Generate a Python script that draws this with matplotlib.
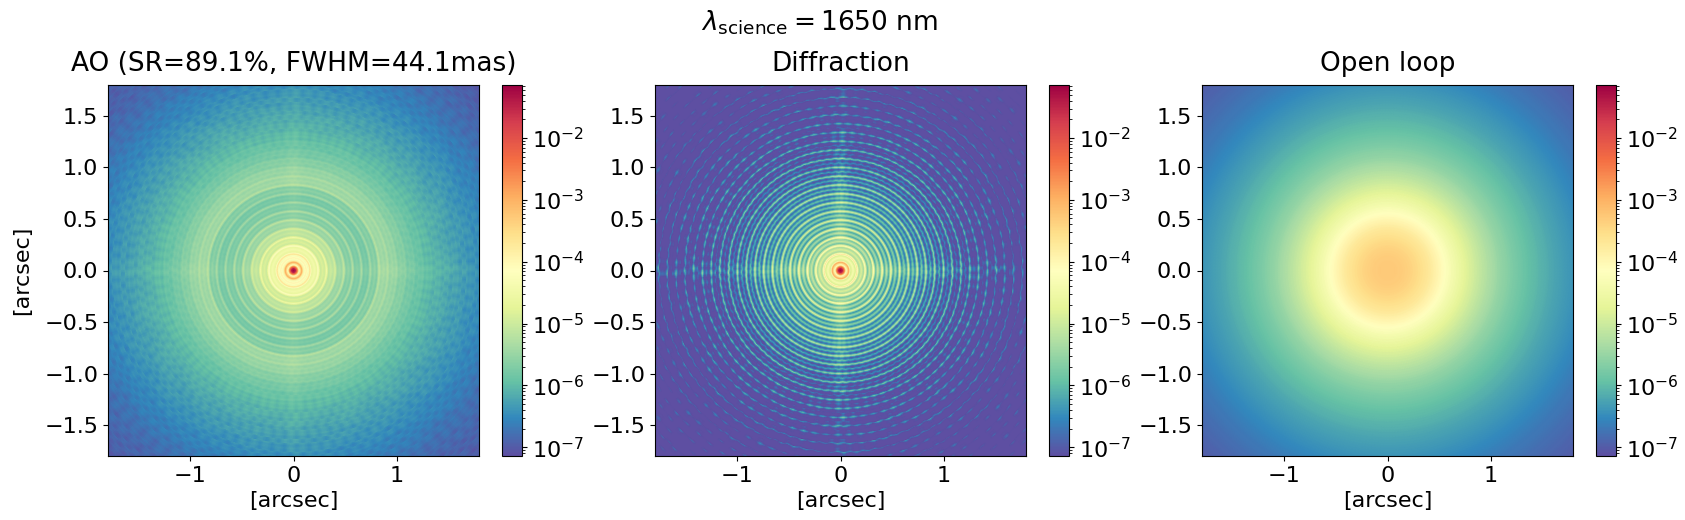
import numpy as np
import matplotlib
matplotlib.use("Agg")
import matplotlib.pyplot as plt
from matplotlib.colors import LogNorm

TITLES = ["AO (SR=89.1%, FWHM=44.1mas)", "Diffraction", "Open loop"]
SUPTITLE = r"$\lambda_{\mathrm{science}} = 1650$ nm"
VMIN, VMAX = 7.2e-8, 0.072
CBAR_TICKS = [1e-7, 1e-6, 1e-5, 1e-4, 1e-3, 1e-2]

CORE_R = [0.0, 0.025, 0.045, 0.06]
CORE_LOG = [-1.14, -1.5, -2.7, -4.2]
RING_R = [0.085, 0.165, 0.245, 0.325, 0.41, 0.495, 0.58, 0.665, 0.75, 0.835,
          0.92, 1.005, 1.09, 1.175, 1.26, 1.345, 1.43, 1.515, 1.60, 1.685,
          1.77, 1.855, 1.94, 2.025, 2.11, 2.195, 2.28, 2.365, 2.45, 2.535, 2.62]
DIFF_PEAK = [-3.0, -3.7, -4.1, -4.4, -4.6, -4.75, -4.9, -5.0, -5.05, -5.2,
             -5.35, -5.45, -5.5, -5.6, -5.7, -5.8, -5.9, -6.0, -6.1, -6.2,
             -6.3, -6.4, -6.5, -6.55, -6.6, -6.65, -6.7, -6.75, -6.8, -6.85, -6.9]
DIFF_THIN = [-4.3, -4.8, -5.0, -5.3, -5.4, -5.55, -5.7, -5.8, -5.85, -6.0,
             -6.1, -6.3, -6.4, -6.5, -6.6, -6.7, -6.8, -6.9, -6.95, -7.0,
             -7.05, -7.1, -7.1, -7.1, -7.1, -7.1, -7.1, -7.1, -7.1, -7.1, -7.1]
DIFF_TROUGH = [-4.8, -5.3, -5.8, -6.2, -6.4, -6.5, -6.6, -6.7, -6.8, -6.9,
               -7.0, -7.0, -7.1, -7.1, -7.1, -7.1, -7.1, -7.1, -7.1, -7.1,
               -7.1, -7.1, -7.1, -7.1, -7.1, -7.1, -7.1, -7.1, -7.1, -7.1, -7.1]
AO_PEAK = [-3.0, -3.7, -4.05, -4.5, -4.9, -5.1, -5.25, -5.35, -5.35, -5.15,
           -5.25, -5.4, -5.55, -5.7, -5.8, -5.92, -6.0, -6.08, -6.15, -6.22,
           -6.3, -6.38, -6.46, -6.53, -6.6, -6.66, -6.71, -6.76, -6.8, -6.84, -6.87]
AO_THIN = [-4.0, -4.4, -4.8, -5.05, -5.4, -5.55, -5.65, -5.7, -5.55, -5.35,
           -5.4, -5.55, -5.68, -5.8, -5.88, -5.98, -6.05, -6.13, -6.2, -6.27,
           -6.35, -6.43, -6.5, -6.58, -6.65, -6.7, -6.76, -6.8, -6.85, -6.88, -6.9]
AO_TROUGH = [-4.3, -4.6, -5.0, -5.2, -5.5, -5.7, -5.75, -5.8, -5.7, -5.45,
             -5.5, -5.63, -5.75, -5.85, -5.95, -6.03, -6.1, -6.18, -6.25, -6.32,
             -6.4, -6.48, -6.55, -6.63, -6.7, -6.75, -6.8, -6.85, -6.88, -6.92, -6.95]
OPEN_R = [0.0, 0.1, 0.2, 0.3, 0.4, 0.5, 0.6, 0.7, 0.8, 0.9, 1.0, 1.1, 1.2, 1.3, 1.4,
          1.5, 1.6, 1.7, 1.8, 1.9, 2.0, 2.1, 2.2, 2.3, 2.4, 2.5, 2.6]
OPEN_LOG = [-3.28, -3.3, -3.38, -3.52, -3.72, -3.98, -4.28, -4.58, -4.85, -5.1,
            -5.33, -5.53, -5.7, -5.85, -5.98, -6.1, -6.21, -6.31, -6.4, -6.5,
            -6.59, -6.68, -6.76, -6.83, -6.9, -6.96, -7.0]

RIPPLE = [0.0, -0.35, -1.0, -0.35]
SECTOR = [0.0, -0.2, -0.6, -0.8, -0.4, 0.0, -0.3, -0.7, -0.9, -0.3, 0.0, -0.5, -0.8, -0.5, -0.1, -0.4,
          -0.9, -0.5, 0.0, -0.3, -0.7, -0.6, -0.2, -0.1]
RING_SHIFT = [0, 31, 7, 53, 19, 71, 41, 11, 83, 29, 61, 3, 47, 89, 23, 67, 37]
RIPPLE_R = [0.0, 0.5, 0.9, 1.3, 1.6, 2.7]
RIPPLE_W = [0.0, 0.05, 0.3, 0.75, 1.0, 1.0]
AXIS_D = [0.0, 0.03, 0.06, 0.1, 0.15]
AXIS_BOOST = [0.4, 0.32, 0.18, 0.05, 0.0]


def ring_table(peak, thin, trough):
    r, v, s = list(CORE_R), list(CORE_LOG), [0, 0, 0, 0]
    for k, r0 in enumerate(RING_R):
        r += [r0, r0 + 0.021, r0 + 0.0425, r0 + 0.064]
        v += [peak[k], trough[k], thin[k], trough[k]]
        s += [RING_SHIFT[k % len(RING_SHIFT)]] * 2 + [RING_SHIFT[(k + 5) % len(RING_SHIFT)]] * 2
    return np.array(r), np.array(v), np.array(s)


def polar_image(r, v, shift, ripple_scale, boost_scale):
    # Subdivide the mesh between table nodes in log space, so the colours follow
    # the colormap instead of a straight RGB blend between two table nodes.
    nodes = np.arange(len(r))
    fine = np.arange(0, len(r) - 1 + 1e-9, 0.25)
    r, v, shift = np.interp(fine, nodes, r), np.interp(fine, nodes, v), shift[fine.astype(int)]
    th = np.deg2rad(np.arange(0, 361))
    rr, tt = np.meshgrid(r, th, indexing="ij")
    x, y = rr * np.cos(tt), rr * np.sin(tt)
    z = np.repeat(v[:, None], th.size, axis=1)
    idx = (np.arange(th.size) % 360)[None, :] + shift[:, None]
    rip = np.array(RIPPLE)[idx % len(RIPPLE)] + np.array(SECTOR)[(idx // 4) % len(SECTOR)] * 0.5
    z = z + ripple_scale * np.interp(rr, RIPPLE_R, RIPPLE_W) * rip
    near = np.minimum(np.abs(x), np.abs(y))
    z = z + boost_scale * np.interp(near, AXIS_D, AXIS_BOOST) * (rr > 0.3)
    return x, y, 10.0 ** z


panels = [
    (*ring_table(AO_PEAK, AO_THIN, AO_TROUGH), 0.15, 0.2),
    (*ring_table(DIFF_PEAK, DIFF_THIN, DIFF_TROUGH), 1.0, 1.0),
    (np.array(OPEN_R), np.array(OPEN_LOG), np.zeros(len(OPEN_R), dtype=int), 0.0, 0.0),
]

W, H = 1685, 520
fig = plt.figure(figsize=(W / 100, H / 100), dpi=100)
LEFTS = [108, 655, 1202]
for i, (r, v, s, rs, bs) in enumerate(panels):
    ax = fig.add_axes([LEFTS[i] / W, 1 - 456 / H, 371 / W, 371 / H])
    cax = fig.add_axes([(LEFTS[i] + 394) / W, 1 - 456 / H, 20 / W, 371 / H])
    x, y, z = polar_image(r, v, s, rs, bs)
    m = ax.pcolormesh(x, y, z, shading="gouraud", cmap="Spectral_r",
                      norm=LogNorm(vmin=VMIN, vmax=VMAX), rasterized=True)
    ax.set_xlim(-1.8, 1.8)
    ax.set_ylim(-1.8, 1.8)
    ax.set_aspect("equal")
    ax.set_xticks([-1, 0, 1])
    ax.set_yticks([-1.5, -1.0, -0.5, 0.0, 0.5, 1.0, 1.5])
    ax.tick_params(labelsize=16)
    ax.set_xlabel("[arcsec]", fontsize=16)
    if i == 0:
        ax.set_ylabel("[arcsec]", fontsize=16, labelpad=9)
    ax.set_title(TITLES[i], fontsize=19, pad=10)
    cb = fig.colorbar(m, cax=cax)
    cb.set_ticks(CBAR_TICKS)
    cb.ax.tick_params(labelsize=16)

fig.text(820 / W, 1 - 23 / H, SUPTITLE, fontsize=19, ha="center", va="center")
fig.savefig("out.png", dpi=100)
